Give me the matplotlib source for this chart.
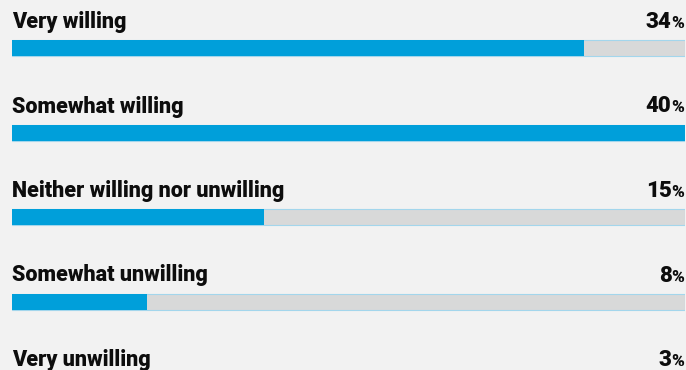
import matplotlib
matplotlib.use("Agg")
import matplotlib.pyplot as plt
from matplotlib import font_manager

names = {f.name for f in font_manager.fontManager.ttflist}
family = "Liberation Sans Narrow" if "Liberation Sans Narrow" in names else "Roboto"
plt.rcParams["font.family"] = [family, "DejaVu Sans"]

labels = ["Very willing", "Somewhat willing", "Neither willing nor unwilling",
          "Somewhat unwilling", "Very unwilling"]
values = [34, 40, 15, 8, 3]
scale_max = 40

bg = "#f2f2f2"
blue = "#009fda"
track = "#d8d9d9"
edge = "#a3d6ec"
ink = "#0d0d0d"

fig = plt.figure(figsize=(6.86, 3.70), dpi=100, facecolor=bg)
ax = fig.add_axes([12 / 686, 0, 673 / 686, 1])
ax.set_facecolor(bg)
ax.set_xlim(0, scale_max)
ax.set_ylim(370, 0)
ax.axis("off")

step = 84.5
for i, (lab, v) in enumerate(zip(labels, values)):
    y = 48 + step * i
    ax.barh(y, scale_max, height=16, color=track, edgecolor=edge, linewidth=0.8, zorder=1)
    ax.barh(y, v, height=16, color=blue, edgecolor="none", zorder=2)
    ax.text(0, y - 20, lab, fontsize=15.5, fontweight="black", color=ink,
            ha="left", va="baseline", clip_on=False)
    ax.text(scale_max - 0.05, y - 20, "%", fontsize=12.5, fontweight="black", color=ink,
            ha="right", va="baseline", clip_on=False)
    ax.text(scale_max - 0.8, y - 20, str(v), fontsize=16, fontweight="black",
            color=ink, ha="right", va="baseline", clip_on=False)

fig.savefig("out.png", dpi=100, facecolor=bg)
